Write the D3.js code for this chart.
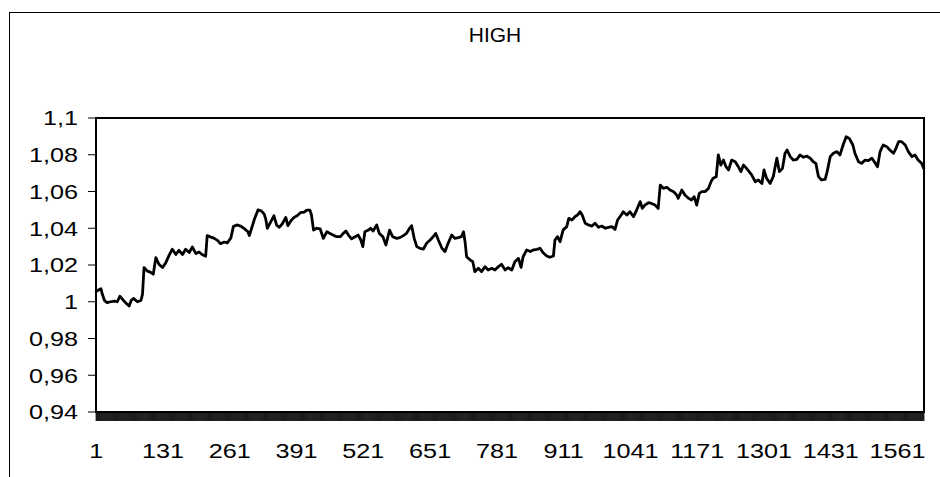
<!DOCTYPE html>
<html>
<head>
<meta charset="utf-8">
<script src="https://cdn.jsdelivr.net/npm/d3@7"></script>
<style>
  html, body { margin: 0; padding: 0; background: #fff; }
  svg { display: block; }
  text { font-family: "Liberation Sans", Arial, sans-serif; fill: #000; }
</style>
</head>
<body>
<svg id="chart" width="940" height="477"></svg>
<script>
// ---- data ----
const title = "HIGH";
const categoryCount = 1612;
const categories = d3.range(1, categoryCount + 1);
const idx = [1,10,13,17,22,29,36,42,47,54,58,65,69,74,81,88,91,94,100,107,112,117,123,130,136,143,149,156,162,169,175,182,188,195,201,207,214,217,224,230,237,243,250,256,263,268,276,283,290,296,299,303,309,316,322,328,331,334,341,347,352,357,363,370,374,380,386,392,399,405,
411,417,420,424,430,437,443,450,456,462,469,476,482,487,492,498,505,511,516,520,524,531,535,540,547,552,559,565,572,578,586,592,599,605,611,615,620,625,631,638,644,651,657,662,667,674,680,686,693,699,706,712,716,719,722,729,734,738,745,751,758,764,771,777,784,790,797,803,
810,816,823,828,832,839,846,852,859,865,871,878,884,891,894,899,904,910,917,921,927,933,938,943,947,953,959,966,972,979,985,992,998,1005,1011,1016,1023,1027,1034,1040,1047,1053,1060,1064,1069,1076,1082,1089,1095,1099,1105,1112,1118,1125,1131,1134,1141,1147,1154,1160,1165,1170,1175,1180,1186,1193,1198,1202,
1208,1212,1217,1222,1227,1232,1238,1245,1251,1256,1261,1267,1272,1277,1284,1290,1297,1301,1306,1313,1319,1326,1331,1337,1342,1346,1352,1358,1365,1371,1378,1384,1391,1397,1402,1407,1413,1420,1424,1430,1436,1443,1449,1455,1461,1467,1474,1478,1485,1491,1498,1504,1511,1517,1522,1527,1533,1540,1546,1553,1558,1563,1569,1576,1582,1589,1595,1601,1608,1612];
const high = [1.0057,1.0071,1.0039,1.0007,0.9995,1.0000,1.0004,1.0000,1.0030,1.0007,0.9995,0.9977,1.0007,1.0018,1.0000,1.0007,1.0040,1.0186,1.0168,1.0160,1.0150,1.0240,1.0204,1.0186,1.0210,1.0254,1.0286,1.0257,1.0280,1.0257,1.0286,1.0268,1.0298,1.0262,1.0271,1.0257,1.0248,1.0360,1.0352,1.0346,1.0334,1.0316,1.0325,1.0320,1.0346,1.0410,1.0418,1.0410,1.0396,1.0382,1.0360,1.0396,1.0450,1.0500,1.0495,1.0477,1.0450,1.0400,1.0436,1.0468,1.0418,1.0405,1.0423,1.0459,1.0414,1.0441,1.0459,1.0468,1.0486,1.0486,
1.0499,1.0499,1.0472,1.0390,1.0400,1.0396,1.0345,1.0381,1.0372,1.0363,1.0354,1.0354,1.0372,1.0385,1.0363,1.0342,1.0354,1.0363,1.0336,1.0300,1.0381,1.0390,1.0400,1.0385,1.0418,1.0372,1.0354,1.0309,1.0390,1.0354,1.0345,1.0349,1.0360,1.0372,1.0400,1.0414,1.0345,1.0300,1.0291,1.0287,1.0318,1.0336,1.0354,1.0372,1.0336,1.0291,1.0273,1.0318,1.0363,1.0345,1.0349,1.0354,1.0381,1.0327,1.0245,1.0227,1.0218,1.0164,1.0182,1.0164,1.0191,1.0173,1.0182,1.0173,1.0191,1.0204,1.0173,1.0185,
1.0173,1.0218,1.0236,1.0187,1.0245,1.0282,1.0273,1.0282,1.0285,1.0291,1.0267,1.0249,1.0242,1.0249,1.0336,1.0354,1.0327,1.0391,1.0409,1.0454,1.0445,1.0463,1.0472,1.0490,1.0472,1.0427,1.0418,1.0412,1.0427,1.0405,1.0412,1.0400,1.0405,1.0409,1.0394,1.0445,1.0472,1.0490,1.0472,1.0490,1.0463,1.0499,1.0545,1.0508,1.0526,1.0539,1.0535,1.0526,1.0508,1.0635,1.0617,1.0623,1.0608,1.0599,1.0581,1.0563,1.0608,1.0581,1.0563,1.0554,1.0572,1.0526,1.0590,1.0599,1.0599,1.0617,1.0654,1.0672,
1.0680,1.0799,1.0744,1.0771,1.0735,1.0717,1.0771,1.0762,1.0735,1.0708,1.0744,1.0726,1.0708,1.0690,1.0653,1.0663,1.0644,1.0717,1.0672,1.0644,1.0681,1.0781,1.0708,1.0726,1.0808,1.0826,1.0790,1.0771,1.0775,1.0799,1.0786,1.0793,1.0781,1.0762,1.0753,1.0681,1.0663,1.0666,1.0708,1.0790,1.0808,1.0817,1.0799,1.0853,1.0898,1.0889,1.0853,1.0808,1.0762,1.0753,1.0771,1.0768,1.0781,1.0757,1.0735,1.0817,1.0853,1.0844,1.0826,1.0808,1.0835,1.0871,1.0871,1.0853,1.0817,1.0790,1.0799,1.0771,1.0753,1.0726];
const xTickLabels = [1,131,261,391,521,651,781,911,1041,1171,1301,1431,1561];
const yTickValues = [0.94,0.96,0.98,1.0,1.02,1.04,1.06,1.08,1.1];

// ---- layout ----
const svg = d3.select("#chart");
const plot = {left: 96, top: 118, right: 924, bottom: 412};
const sx = 1.2; // horizontal stretch of the text

// outer chart frame (extends beyond the window on right and bottom)
svg.append("rect").attr("x", 9.5).attr("y", 12.5).attr("width", 1200).attr("height", 1000)
  .attr("fill", "none").attr("stroke", "#000").attr("stroke-width", 1);

// scales
const x = d3.scaleLinear().domain([0.5, categoryCount + 0.5]).range([plot.left, plot.right]);
const y = d3.scaleLinear().domain([0.94, 1.1]).range([plot.bottom, plot.top]);

// x tick marks: one per category boundary
svg.append("g").selectAll("line").data(d3.range(0, categoryCount + 1)).join("line")
  .attr("x1", d => x(d + 0.5)).attr("x2", d => x(d + 0.5))
  .attr("y1", plot.bottom).attr("y2", plot.bottom + 9)
  .attr("stroke", "#000").attr("stroke-width", 0.75);

// y ticks
const fmt = v => String(+v.toFixed(2)).replace(".", ",");
svg.append("g").selectAll("line").data(yTickValues).join("line")
  .attr("x1", plot.left - 8).attr("x2", plot.left)
  .attr("y1", d => y(d)).attr("y2", d => y(d))
  .attr("stroke", "#000").attr("stroke-width", 1);

svg.append("g").selectAll("text").data(yTickValues).join("text")
  .attr("transform", d => `translate(78,${y(d)}) scale(${sx},1)`)
  .attr("text-anchor", "end").attr("dy", "0.35em")
  .style("font-size", "21px")
  .text(fmt);

// x labels
svg.append("g").selectAll("text").data(xTickLabels).join("text")
  .attr("transform", d => `translate(${x(d)},458) scale(${sx},1)`)
  .attr("text-anchor", "middle")
  .style("font-size", "21px")
  .text(d => d);

// line
const line = d3.line().x((d, i) => x(idx[i])).y(d => y(d));
svg.append("path").datum(high).attr("d", line)
  .attr("fill", "none").attr("stroke", "#000").attr("stroke-width", 2.8)
  .attr("stroke-linejoin", "round").attr("stroke-linecap", "round");

// plot-area border
svg.append("rect").attr("x", plot.left).attr("y", plot.top)
  .attr("width", plot.right - plot.left).attr("height", plot.bottom - plot.top)
  .attr("fill", "none").attr("stroke", "#000").attr("stroke-width", 2);

// title
svg.append("text").attr("transform", `translate(495,42)`)
  .attr("text-anchor", "middle").style("font-size", "21px").text(title);
</script>
</body>
</html>
